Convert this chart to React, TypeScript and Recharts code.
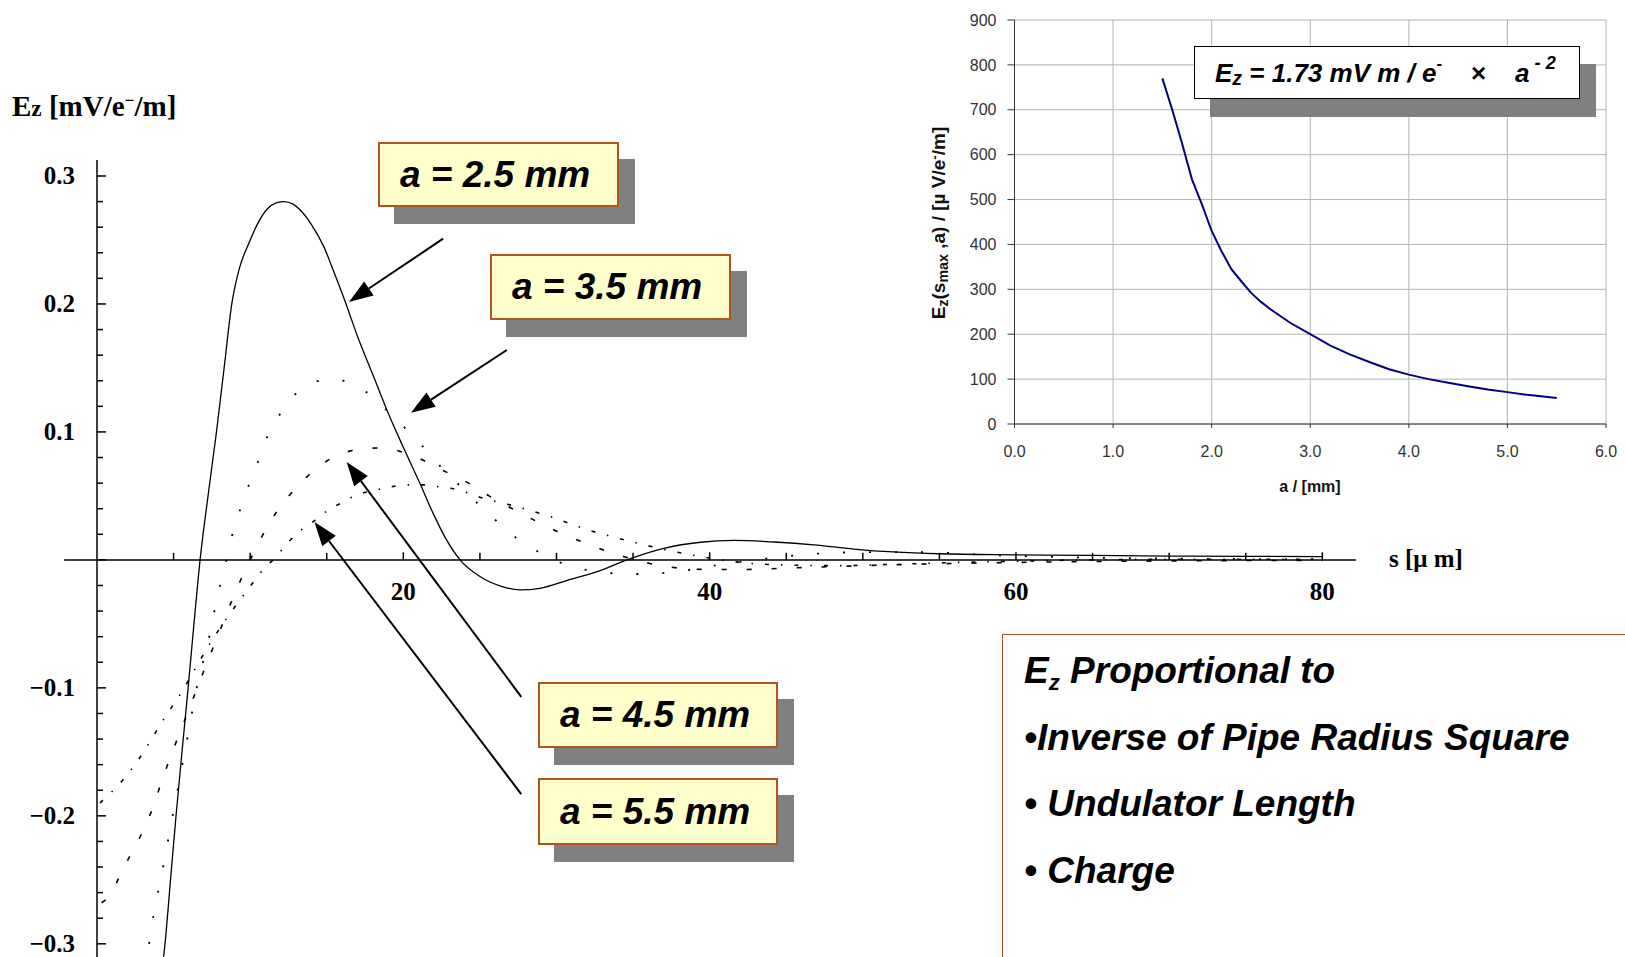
import { LineChart, Line, XAxis, YAxis, CartesianGrid, ReferenceLine } from 'recharts';

const SERIF = "'Liberation Serif', 'Times New Roman', serif";
const SANS = "'Liberation Sans', Arial, sans-serif";
const BOX_BORDER = '#b5531e';

// wake potential, a = 2.5 mm (solid)
const sA25 = [4.35, 4.44, 4.8, 5.16, 5.55, 5.95, 6.33, 6.73, 7.25, 7.8, 8.3, 8.8, 9.3, 9.9, 10.5, 11.1, 11.7, 12.2, 12.8, 13.3, 14.0, 14.8, 15.5, 16.2, 17.0, 18.0, 19.0, 20.0, 21.0, 22.0, 22.8, 23.7, 25.0, 26.5, 27.6, 29.0, 30.7, 32.7, 34.6, 37.0, 39.4, 41.6, 44.2, 46.8, 49.4, 52.0, 55.0, 60.0, 65.0, 70.0, 75.0, 80.0];
const eA25 = [-0.31, -0.3, -0.25, -0.2, -0.15, -0.1, -0.05, 0.0, 0.05, 0.1, 0.15, 0.2, 0.228, 0.247, 0.263, 0.274, 0.279, 0.28, 0.278, 0.273, 0.262, 0.245, 0.224, 0.202, 0.175, 0.145, 0.115, 0.088, 0.062, 0.035, 0.016, 0.0, -0.013, -0.021, -0.0235, -0.022, -0.016, -0.009, 0.0, 0.009, 0.0138, 0.0152, 0.014, 0.0118, 0.0085, 0.0062, 0.0048, 0.004, 0.0035, 0.003, 0.0028, 0.0025];

// a = 3.5 mm (dotted)
const sA35 = [3.4, 3.7, 4.05, 4.38, 4.7, 5.1, 5.65, 6.03, 6.3, 6.69, 7.17, 7.5, 7.85, 8.3, 8.7, 9.2, 9.74, 10.4, 11.0, 11.85, 12.9, 14.0, 15.2, 16.1, 17.6, 18.9, 20.2, 21.4, 22.5, 23.6, 24.6, 25.5, 26.3, 27.75, 29.3, 30.9, 32.7, 34.5, 35.8, 37.3, 39.1, 41.0, 43.0, 46.0, 50.0, 54.0, 58.0, 64.0, 70.0, 80.0];
const eA35 = [-0.3, -0.277, -0.256, -0.236, -0.215, -0.19, -0.155, -0.131, -0.113, -0.09, -0.069, -0.05, -0.029, -0.008, 0.0135, 0.034, 0.053, 0.073, 0.093, 0.112, 0.129, 0.138, 0.141, 0.14, 0.131, 0.117, 0.102, 0.087, 0.072, 0.059, 0.047, 0.037, 0.028, 0.0138, 0.0034, -0.005, -0.009, -0.011, -0.011, -0.0099, -0.007, -0.003, 0.0, 0.004, 0.006, 0.006, 0.004, 0.002, 0.001, 0.0005];

// a = 4.5 mm (dashed)
const sA45 = [0.3, 0.78, 1.76, 2.75, 3.6, 4.25, 5.05, 6.0, 7.0, 8.0, 8.8, 9.6, 10.0, 10.65, 11.7, 13.05, 14.6, 16.5, 18.5, 20.7, 22.4, 24.4, 25.6, 27.6, 29.9, 31.9, 34.0, 35.2, 37.0, 40.0, 42.0, 46.0, 50.0, 55.0, 60.0, 65.0, 70.0, 80.0];
const eA45 = [-0.268, -0.263, -0.24, -0.218, -0.195, -0.172, -0.146, -0.117, -0.086, -0.056, -0.032, -0.01, 0.0, 0.0156, 0.037, 0.057, 0.074, 0.085, 0.0875, 0.081, 0.071, 0.059, 0.05, 0.037, 0.023, 0.013, 0.004, 0.0, -0.005, -0.0075, -0.0075, -0.006, -0.0045, -0.003, -0.002, -0.0013, -0.0008, -0.0004];

// a = 5.5 mm (dash-dot)
const sA55 = [0.2, 0.4, 1.24, 1.9, 2.6, 3.3, 4.33, 5.49, 6.6, 7.5, 8.5, 9.67, 10.3, 11.05, 11.5, 12.5, 13.3, 14.25, 15.1, 16.05, 17.0, 18.0, 19.15, 20.2, 21.3, 22.4, 23.5, 25.0, 27.6, 29.8, 31.9, 34.0, 36.0, 38.3, 40.0, 42.0, 45.0, 48.0, 52.0, 56.0, 60.0, 65.0, 70.0, 80.0];
const eA55 = [-0.19, -0.1875, -0.178, -0.169, -0.158, -0.145, -0.125, -0.104, -0.081, -0.063, -0.045, -0.026, -0.016, -0.0047, 0.0, 0.014, 0.023, 0.031, 0.039, 0.045, 0.051, 0.054, 0.057, 0.0586, 0.0586, 0.057, 0.055, 0.049, 0.041, 0.033, 0.024, 0.017, 0.011, 0.005, 0.0015, -0.002, -0.004, -0.0045, -0.0035, -0.002, -0.001, 0.0, 0.0005, 0.0005];

const yMajor = [-0.3, -0.2, -0.1, 0, 0.1, 0.2, 0.3];
const yMinor = [-0.28, -0.26, -0.24, -0.22, -0.18, -0.16, -0.14, -0.12, -0.08, -0.06, -0.04, -0.02, 0.02, 0.04, 0.06, 0.08, 0.12, 0.14, 0.16, 0.18, 0.22, 0.24, 0.26, 0.28];
const xMajor = [20, 40, 60, 80];
const xMinor = [5, 10, 15, 25, 30, 35, 45, 50, 55, 65, 70, 75];

// inset: peak field vs pipe radius
const insetA = [1.5, 1.6, 1.7, 1.8, 1.9, 2.0, 2.1, 2.2, 2.3, 2.4, 2.5, 2.6, 2.8, 3.0, 3.2, 3.4, 3.6, 3.8, 4.0, 4.2, 4.4, 4.6, 4.8, 5.0, 5.2, 5.5];
const insetEz = [770, 700, 625, 545, 490, 430, 385, 345, 318, 292, 272, 255, 225, 200, 175, 155, 138, 122, 110, 100, 92, 84, 77, 71, 65, 58];
const insetXTicks = [0, 1, 2, 3, 4, 5, 6];
const insetYTicks = [0, 100, 200, 300, 400, 500, 600, 700, 800, 900];

// arrows from the labels to the curves, in (s, Ez) units
const arrows = [
  { from: [22.6, 0.251], to: [16.45, 0.2016] },
  { from: [26.76, 0.164], to: [20.5, 0.115] },
  { from: [27.7, -0.107], to: [16.3, 0.0766] },
  { from: [27.7, -0.183], to: [14.2, 0.0297] },
];

const toPoints = (s: number[], e: number[]) => s.map((v, i) => ({ s: v, e: e[i] }));
const insetData = insetA.map((a, i) => ({ a, ez: insetEz[i] }));

const fmtY = (v: number) => (v < 0 ? '\u2212' + Math.abs(v).toFixed(1) : v.toFixed(1));

const sub = (size: string, shift: string) => ({ fontSize: size, position: 'relative' as const, top: shift, lineHeight: 0 });

const MainYTick = (props: any) => {
  const { x, y, payload } = props;
  const major = yMajor.includes(payload.value);
  return (
    <g>
      <line x1={x} y1={y} x2={x + (major ? 9 : 6)} y2={y} stroke="#000" strokeWidth={1.5} />
      {major && payload.value !== 0 && (
        <text x={x - 22} y={y} textAnchor="end" dominantBaseline="central" fontFamily={SERIF} fontWeight="bold" fontSize={25} fill="#000">
          {fmtY(payload.value)}
        </text>
      )}
    </g>
  );
};

const ArrowShape = (p: any) => {
  const { x1, y1, x2, y2 } = p;
  const len = Math.hypot(x2 - x1, y2 - y1);
  const ux = (x2 - x1) / len;
  const uy = (y2 - y1) / len;
  const hl = 24;
  const hw = 8.5;
  const bx = x2 - ux * hl;
  const by = y2 - uy * hl;
  return (
    <g>
      <line x1={x1} y1={y1} x2={bx} y2={by} stroke="#000" strokeWidth={2} />
      <polygon points={`${x2},${y2} ${bx - uy * hw},${by + ux * hw} ${bx + uy * hw},${by - ux * hw}`} fill="#000" />
    </g>
  );
};

const LabelBox = ({ left, top, w, h, text }: any) => (
  <>
    <div style={{ position: 'absolute', left: left + 16, top: top + 17, width: w, height: h, background: '#808080' }} />
    <div
      style={{
        position: 'absolute', left, top, width: w, height: h, boxSizing: 'border-box',
        background: '#ffffcc', border: `2px solid ${BOX_BORDER}`, display: 'flex', alignItems: 'center',
        paddingLeft: 20, fontFamily: SANS, fontWeight: 'bold', fontStyle: 'italic', fontSize: 37, color: '#000',
        whiteSpace: 'pre',
      }}
    >
      {text}
    </div>
  </>
);

const MainChart = () => (
  <div style={{ position: 'absolute', left: 0, top: 0 }}>
    <LineChart width={1625} height={963} margin={{ top: 160, right: 269, bottom: 0, left: 37 }}>
      <XAxis type="number" dataKey="s" domain={[0, 82.2]} hide allowDataOverflow />
      <YAxis
        type="number"
        domain={[-0.315, 0.3125]}
        ticks={[...yMinor, ...yMajor].sort((a, b) => a - b)}
        interval={0}
        tick={MainYTick}
        tickLine={false}
        tickSize={0}
        tickMargin={0}
        axisLine={{ stroke: '#000', strokeWidth: 1.5 }}
        width={60}
        allowDataOverflow
      />
      <ReferenceLine segment={[{ x: -2.15, y: 0 }, { x: 82.2, y: 0 }]} stroke="#000" strokeWidth={1.5} ifOverflow="visible" />
      {xMinor.map((t) => (
        <ReferenceLine key={`mn${t}`} segment={[{ x: t, y: 0 }, { x: t, y: 0.0055 }]} stroke="#000" strokeWidth={1.5} />
      ))}
      {xMajor.map((t) => (
        <ReferenceLine
          key={`mj${t}`}
          segment={[{ x: t, y: 0 }, { x: t, y: 0.006 }]}
          stroke="#000"
          strokeWidth={1.5}
          label={{ value: String(t), position: 'bottom', offset: 22, fill: '#000', fontSize: 25, fontWeight: 'bold', fontFamily: SERIF }}
        />
      ))}
      <Line data={toPoints(sA55, eA55)} dataKey="e" type="monotone" stroke="#000" strokeWidth={1.6} strokeDasharray="4 12 1.5 12" dot={false} isAnimationActive={false} />
      <Line data={toPoints(sA45, eA45)} dataKey="e" type="monotone" stroke="#000" strokeWidth={1.6} strokeDasharray="5 20" dot={false} isAnimationActive={false} />
      <Line data={toPoints(sA35, eA35)} dataKey="e" type="monotone" stroke="#000" strokeWidth={1.8} strokeDasharray="2 24" dot={false} isAnimationActive={false} />
      <Line data={toPoints(sA25, eA25)} dataKey="e" type="monotone" stroke="#000" strokeWidth={1.3} dot={false} isAnimationActive={false} />
      {arrows.map((a, i) => (
        <ReferenceLine
          key={`ar${i}`}
          segment={[{ x: a.from[0], y: a.from[1] }, { x: a.to[0], y: a.to[1] }]}
          shape={ArrowShape}
          ifOverflow="visible"
        />
      ))}
    </LineChart>
  </div>
);

const insetTick = { fill: '#333', fontSize: 16, fontFamily: SANS };

const InsetChart = () => (
  <div style={{ position: 'absolute', left: 880, top: 0 }}>
    <LineChart width={745} height={500} margin={{ top: 20, right: 19, bottom: 46, left: 74.5 }}>
      <CartesianGrid stroke="#b4b4b4" />
      <XAxis
        type="number"
        dataKey="a"
        domain={[0, 6]}
        ticks={insetXTicks}
        interval={0}
        tickFormatter={(v: number) => v.toFixed(1)}
        tick={insetTick}
        tickSize={4}
        tickMargin={18}
        axisLine={{ stroke: '#333' }}
        tickLine={{ stroke: '#333' }}
        height={30}
      />
      <YAxis
        type="number"
        domain={[0, 900]}
        ticks={insetYTicks}
        interval={0}
        tick={insetTick}
        tickSize={7}
        tickMargin={11}
        axisLine={{ stroke: '#333' }}
        tickLine={{ stroke: '#333' }}
        width={60}
      />
      <Line data={insetData} dataKey="ez" type="linear" stroke="#000080" strokeWidth={2} dot={false} isAnimationActive={false} />
    </LineChart>
  </div>
);

export default function App() {
  return (
    <div style={{ position: 'fixed', left: 0, top: 0, width: 1625, height: 957, overflow: 'hidden', background: '#fff' }}>
      <MainChart />

      <div style={{ position: 'absolute', left: 12, top: 92, fontFamily: SERIF, fontWeight: 'bold', fontSize: 29, whiteSpace: 'pre', lineHeight: 1 }}>
        E<span style={{ fontSize: '0.8em' }}>z</span> [mV/e<span style={sub('0.6em', '-0.55em')}>−</span>/m]
      </div>
      <div style={{ position: 'absolute', left: 1389, top: 546, fontFamily: SERIF, fontWeight: 'bold', fontSize: 25, whiteSpace: 'pre', lineHeight: 1 }}>
        s [μ m]
      </div>

      <LabelBox left={378} top={142} w={241} h={65} text="a = 2.5 mm" />
      <LabelBox left={490} top={254} w={241} h={66} text="a = 3.5 mm" />
      <LabelBox left={538} top={682} w={240} h={66} text="a = 4.5 mm" />
      <LabelBox left={538} top={778} w={240} h={67} text="a = 5.5 mm" />

      <InsetChart />

      <div
        style={{
          position: 'absolute', left: 938, top: 223, transform: 'translate(-50%, -50%) rotate(-90deg)',
          fontFamily: SANS, fontWeight: 'bold', fontSize: 19, whiteSpace: 'pre', lineHeight: 1, color: '#111',
        }}
      >
        E<span style={sub('0.75em', '0.2em')}>z</span>(s<span style={sub('0.75em', '0.2em')}>max</span> ,a) / [µ V/e<span style={sub('0.7em', '-0.45em')}>-</span>/m]
      </div>
      <div style={{ position: 'absolute', left: 1310, top: 487, transform: 'translate(-50%, -50%)', fontFamily: SANS, fontWeight: 'bold', fontSize: 16, whiteSpace: 'pre', color: '#111' }}>
        a / [mm]
      </div>

      <div style={{ position: 'absolute', left: 1210, top: 64, width: 386, height: 53, background: '#808080' }} />
      <div
        style={{
          position: 'absolute', left: 1194, top: 46, width: 386, height: 53, boxSizing: 'border-box', background: '#fff',
          border: '1.5px solid #000', display: 'flex', alignItems: 'center', paddingLeft: 20,
          fontFamily: SANS, fontWeight: 'bold', fontStyle: 'italic', fontSize: 26, whiteSpace: 'pre', lineHeight: 1,
        }}
      >
        E<span style={sub('0.75em', '0.3em')}>z</span> = 1.73 mV m / e<span style={sub('0.65em', '-0.5em')}>-</span>
        <span style={{ fontStyle: 'normal' }}>{'    ×    '}</span>a<span style={sub('0.7em', '-0.5em')}>{' - 2'}</span>
      </div>

      <div
        style={{
          position: 'absolute', left: 1002, top: 634, width: 700, height: 400, boxSizing: 'border-box',
          border: `1.5px solid ${BOX_BORDER}`, padding: '3px 0 0 21px', fontFamily: SANS, fontWeight: 'bold',
          fontStyle: 'italic', fontSize: 37, lineHeight: '66.7px', whiteSpace: 'pre', color: '#000',
        }}
      >
        <div style={{ height: 66.7 }}>E<span style={sub('0.6em', '0.3em')}>z</span> Proportional to</div>
        <div style={{ height: 66.7 }}>•Inverse of Pipe Radius Square</div>
        <div style={{ height: 66.7 }}>• Undulator Length</div>
        <div style={{ height: 66.7 }}>• Charge</div>
      </div>
    </div>
  );
}
